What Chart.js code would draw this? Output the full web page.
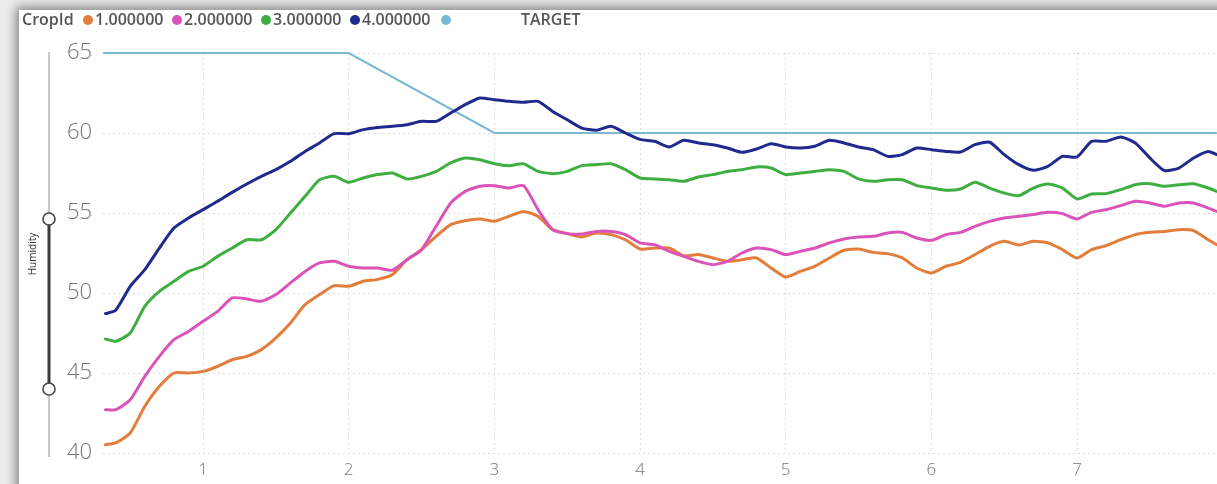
<!DOCTYPE html>
<html>
<head>
<meta charset="utf-8">
<script src="https://cdn.jsdelivr.net/npm/chart.js@4"></script>
<style>
  html,body{margin:0;padding:0;width:1217px;height:484px;overflow:hidden;background:#ececec;}
  #panel{position:absolute;left:19px;top:10px;width:1300px;height:600px;background:#fff;box-shadow:0 0 10px 3px rgba(0,0,0,0.45);}
  #c{position:absolute;left:0;top:0;}
  .lg{position:absolute;top:10px;font-family:"Open Sans",sans-serif;font-weight:600;font-size:16px;color:#555;line-height:19px;white-space:nowrap;}
  .dot{position:absolute;top:15px;width:10px;height:10px;border-radius:50%;}
  #slider{position:absolute;left:0;top:0;}
</style>
</head>
<body>
<div id="panel"></div>
<canvas id="c" width="1217" height="484"></canvas>
<div id="legend"></div>
<canvas id="slider" width="80" height="484"></canvas>
<script>
// ---- data ----
const days = [0.33,0.4,0.5,0.6,0.7,0.8,0.9,1.0,1.1,1.2,1.3,1.4,1.5,1.6,1.7,1.8,1.9,2.0,2.1,2.2,2.3,2.4,2.5,2.6,2.7,2.8,2.9,3.0,3.1,3.2,3.3,3.4,3.5,3.6,3.7,3.8,3.9,4.0,4.1,4.2,4.3,4.4,4.5,4.6,4.7,4.8,4.9,5.0,5.1,5.2,5.3,5.4,5.5,5.6,5.7,5.8,5.9,6.0,6.1,6.2,6.3,6.4,6.5,6.6,6.7,6.8,6.9,7.0,7.1,7.2,7.3,7.4,7.5,7.6,7.7,7.8,7.9,7.96];
const crop1 = [40.52,40.63,41.25,42.92,44.17,45.0,45.0,45.1,45.42,45.83,46.04,46.46,47.19,48.13,49.27,49.9,50.46,50.42,50.73,50.85,51.15,52.08,52.71,53.54,54.27,54.52,54.63,54.48,54.79,55.1,54.79,53.96,53.71,53.5,53.75,53.65,53.33,52.75,52.81,52.81,52.33,52.4,52.19,51.98,52.08,52.19,51.56,51.0,51.35,51.67,52.19,52.67,52.75,52.54,52.46,52.19,51.56,51.25,51.67,51.92,52.4,52.92,53.23,53.0,53.23,53.13,52.71,52.19,52.71,52.96,53.33,53.65,53.79,53.85,53.96,53.9,53.33,53.02];
const crop2 = [42.71,42.71,43.33,44.79,46.04,47.08,47.6,48.23,48.85,49.69,49.63,49.48,49.9,50.63,51.35,51.88,51.98,51.67,51.56,51.56,51.42,52.08,52.71,54.17,55.63,56.35,56.67,56.71,56.56,56.71,55.21,53.96,53.71,53.69,53.85,53.85,53.65,53.13,53.02,52.6,52.29,51.98,51.77,51.98,52.5,52.81,52.71,52.4,52.6,52.81,53.13,53.38,53.5,53.54,53.75,53.79,53.44,53.29,53.65,53.79,54.17,54.48,54.69,54.79,54.9,55.04,54.96,54.63,55.04,55.21,55.46,55.73,55.63,55.42,55.63,55.63,55.31,55.1];
const crop3 = [47.13,46.98,47.5,49.17,50.1,50.73,51.35,51.67,52.29,52.81,53.33,53.33,53.96,55.0,56.04,57.08,57.29,56.92,57.19,57.4,57.5,57.13,57.29,57.6,58.13,58.44,58.33,58.08,57.96,58.08,57.6,57.46,57.6,57.96,58.02,58.08,57.71,57.19,57.13,57.08,56.98,57.25,57.4,57.6,57.71,57.88,57.81,57.4,57.5,57.6,57.71,57.6,57.13,56.98,57.08,57.08,56.71,56.56,56.42,56.5,56.92,56.56,56.25,56.08,56.56,56.81,56.56,55.88,56.19,56.21,56.46,56.77,56.83,56.67,56.77,56.83,56.56,56.35];
const crop4 = [48.71,48.92,50.42,51.46,52.81,54.06,54.69,55.21,55.73,56.29,56.81,57.29,57.71,58.23,58.85,59.38,59.96,59.96,60.21,60.35,60.42,60.52,60.73,60.73,61.25,61.77,62.19,62.08,61.98,61.92,61.98,61.35,60.83,60.31,60.17,60.42,60.0,59.6,59.48,59.13,59.54,59.38,59.27,59.06,58.79,59.0,59.33,59.13,59.06,59.17,59.54,59.38,59.13,58.96,58.54,58.65,59.06,58.96,58.85,58.81,59.27,59.42,58.65,58.02,57.67,57.92,58.54,58.5,59.48,59.48,59.75,59.38,58.44,57.65,57.81,58.44,58.85,58.65];
const targetDays = [0.313, 2, 3, 7.96];
const targetValues = [65, 65, 60, 60];
const seriesNames = ["1.000000","2.000000","3.000000","4.000000"];
const yTicks = [40,45,50,55,60,65];
const xTicks = [1,2,3,4,5,6,7];
const xMin = 0.313, xMax = 7.961;

const colors = ["#E27D3C","#DB53B8","#3FAE41","#202A8E"];
const targetColor = "#7AB9D3";

const pts = (xs, ys) => xs.map((x,i)=>({x:x,y:ys[i]}));
const crops = [crop1,crop2,crop3,crop4];
const datasets = crops.map((d,i)=>({
  label: seriesNames[i], data: pts(days,d), borderColor: colors[i], backgroundColor: colors[i],
  borderWidth: 3, pointRadius: 0, tension: 0.2, borderJoinStyle:'round', borderCapStyle:'round', order: 4-i, clip: 4
}));
datasets.push({label:"TARGET", data: pts(targetDays,targetValues), borderColor: targetColor, backgroundColor: targetColor,
  borderWidth: 2.2, pointRadius: 0, tension: 0, order: 10, clip: 4});

new Chart(document.getElementById('c'), {
  type: 'line',
  data: { datasets },
  options: {
    responsive: false, animation: false,
    layout: { padding: { top: 53, left: 0, right: 0, bottom: 0 } },
    plugins: { legend: { display: false }, tooltip: { enabled: false } },
    scales: {
      x: {
        type: 'linear', min: xMin, max: xMax,
        afterFit: s => { s.height = 31; },
        afterBuildTicks: s => { s.ticks = xTicks.map(v=>({value:v})); },
        ticks: { includeBounds: false, stepSize: 1, padding: 7, color: '#777',
                 font: { family: '"Open Sans", sans-serif', size: 17, weight: 300 } },
        grid: { color: '#dcdcdc', drawTicks: false, lineWidth: 1 },
        border: { display: false, dash: [2,3] }
      },
      y: {
        min: 40, max: 65,
        afterFit: s => { s.width = 103; },
        afterBuildTicks: s => { s.ticks = yTicks.map(v=>({value:v})); },
        ticks: { stepSize: 5, padding: 11, color: '#737373',
                 font: { family: '"Open Sans", sans-serif', size: 22, weight: 300 } },
        grid: { color: '#dcdcdc', drawTicks: false, lineWidth: 1 },
        border: { display: false, dash: [2,3] }
      }
    }
  }
});

// legend (HTML)
const lg = document.getElementById('legend');
function addText(t, left){ const s=document.createElement('div'); s.className='lg'; s.style.left=left+'px'; s.textContent=t; lg.appendChild(s); }
function addDot(c, cx){ const d=document.createElement('div'); d.className='dot'; d.style.left=(cx-5)+'px'; d.style.background=c; lg.appendChild(d); }
addText('CropId', 22);
const dotX = [88,177,266,355];
seriesNames.forEach((n,i)=>{ addDot(colors[i], dotX[i]); addText(n, dotX[i]+7); });
addDot(targetColor, 446);
addText('TARGET', 521);

// slider
const sc = document.getElementById('slider').getContext('2d');
sc.fillStyle = '#c8c8c8'; sc.fillRect(48, 52, 2, 405);
sc.fillStyle = '#3a3a3a'; sc.fillRect(47.5, 219, 3, 170);
[219, 389].forEach(y=>{ sc.beginPath(); sc.arc(49, y, 6, 0, Math.PI*2); sc.fillStyle='#fff'; sc.fill(); sc.lineWidth=1.6; sc.strokeStyle='#444'; sc.stroke(); });
sc.save(); sc.translate(33, 254); sc.rotate(-Math.PI/2);
sc.fillStyle = '#333'; sc.font = '10px "Open Sans", sans-serif'; sc.textAlign='center'; sc.textBaseline='middle';
sc.fillText('Humidity', 0, 0); sc.restore();
</script>
</body>
</html>
